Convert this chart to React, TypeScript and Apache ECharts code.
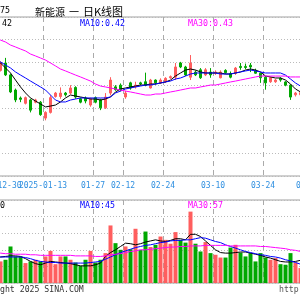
import React, { useEffect, useRef } from "react";
import * as echarts from "echarts";

const dates = ["2024-12-27","2024-12-30","2024-12-31","2025-01-02","2025-01-03","2025-01-06","2025-01-07","2025-01-08","2025-01-09","2025-01-10","2025-01-13","2025-01-14","2025-01-15","2025-01-16","2025-01-17","2025-01-20","2025-01-21","2025-01-22","2025-01-23","2025-01-24","2025-01-27","2025-02-05","2025-02-06","2025-02-07","2025-02-10","2025-02-11","2025-02-12","2025-02-13","2025-02-14","2025-02-17","2025-02-18","2025-02-19","2025-02-20","2025-02-21","2025-02-24","2025-02-25","2025-02-26","2025-02-27","2025-02-28","2025-03-03","2025-03-04","2025-03-05","2025-03-06","2025-03-07","2025-03-10","2025-03-11","2025-03-12","2025-03-13","2025-03-14","2025-03-17","2025-03-18","2025-03-19","2025-03-20","2025-03-21","2025-03-24","2025-03-25","2025-03-26","2025-03-27","2025-03-28","2025-03-31","2025-04-01","2025-04-02","2025-04-03","2025-04-07"];

const tickDates = ["2024-12-30","2025-01-13","2025-01-27","2025-02-12","2025-02-24","2025-03-10","2025-03-24","2025-04-07"];
const tickLabels = ["12-30","2025-01-13","01-27","02-12","02-24","03-10","03-24","04-07"];

const openP = [null,0.433,0.4395,0.429,0.4157,0.4087,0.404,0.407,0.405,0.405,0.391,0.396,0.410,0.410,0.413,0.413,0.418,0.408,0.4085,0.4025,0.409,0.407,0.400,0.413,0.4185,0.420,0.4096,0.422,0.4185,0.422,0.423,0.4175,0.4245,0.422,0.423,0.4265,0.427,0.4395,0.436,0.427,0.4315,0.4335,0.429,0.4315,0.4305,0.4265,0.433,0.430,0.4305,0.4365,0.4365,0.4375,0.433,0.4305,0.427,0.423,0.423,0.426,0.4228,0.420,0.4115,0.4115,null,null];
const closeP = [null,0.4395,0.429,0.414,0.407,0.4075,0.409,0.398,0.407,0.394,0.396,0.409,0.413,0.413,0.4115,0.4175,0.4095,0.405,0.406,0.408,0.405,0.400,0.4095,0.4245,0.416,0.416,0.413,0.4175,0.420,0.421,0.420,0.4245,0.422,0.4245,0.426,0.4275,0.436,0.436,0.429,0.4395,0.429,0.4265,0.4335,0.429,0.4315,0.4315,0.431,0.427,0.435,0.4355,0.4355,0.436,0.4305,0.4265,0.422,0.4265,0.4245,0.4245,0.420,0.4095,0.413,0.4135,null,null];
const lowP = [null,0.432,0.428,0.413,0.405,0.405,0.403,0.396,0.404,0.393,0.389,0.395,0.409,0.408,0.410,0.412,0.408,0.404,0.404,0.401,0.404,0.398,0.399,0.411,0.415,0.4145,0.408,0.416,0.417,0.420,0.419,0.417,0.4205,0.421,0.422,0.4255,0.4245,0.435,0.428,0.4245,0.428,0.4255,0.428,0.4265,0.429,0.426,0.430,0.426,0.429,0.4335,0.434,0.4315,0.430,0.422,0.416,0.422,0.422,0.423,0.419,0.407,0.410,0.410,null,null];
const highP = [null,0.441,0.444,0.430,0.417,0.410,0.410,0.408,0.408,0.406,0.397,0.411,0.414,0.418,0.414,0.420,0.419,0.409,0.410,0.409,0.410,0.408,0.413,0.427,0.420,0.4215,0.415,0.423,0.423,0.423,0.431,0.4255,0.425,0.426,0.427,0.4285,0.4395,0.4405,0.437,0.4465,0.433,0.435,0.435,0.435,0.433,0.433,0.434,0.432,0.436,0.4395,0.439,0.4395,0.4345,0.431,0.428,0.4275,0.4255,0.427,0.4235,0.4205,0.414,0.415,null,null];

const ma5 = [0.4421,0.4395,0.4351,0.4307,0.4245,0.4184,0.4131,0.4087,0.4060,0.4034,0.4008,0.4016,0.4025,0.4052,0.4087,0.4113,0.4104,0.4096,0.4087,0.4078,0.4078,0.4069,0.4078,0.4096,0.4140,0.4166,0.4175,0.4184,0.4192,0.4201,0.4201,0.4210,0.4210,0.4219,0.4228,0.4245,0.4280,0.4307,0.4333,0.4342,0.4333,0.4316,0.4307,0.4307,0.4307,0.4307,0.4298,0.4298,0.4307,0.4316,0.4333,0.4342,0.4333,0.4316,0.4280,0.4272,0.4263,0.4263,0.4245,0.4210,0.4166,0.4140,null,null];
const ma10 = [0.4421,0.4404,0.4377,0.4351,0.4316,0.4289,0.4263,0.4236,0.4210,0.4184,0.4157,0.4113,0.4069,0.4052,0.4052,0.4069,0.4078,0.4087,0.4087,0.4087,0.4087,0.4087,0.4087,0.4096,0.4131,0.4148,0.4166,0.4175,0.4184,0.4192,0.4201,0.4201,0.4210,0.4219,0.4228,0.4236,0.4254,0.4263,0.4280,0.4298,0.4307,0.4307,0.4307,0.4307,0.4307,0.4298,0.4298,0.4298,0.4307,0.4316,0.4325,0.4333,0.4325,0.4316,0.4307,0.4307,0.4307,0.4307,0.4289,0.4254,0.4219,0.4192,null,null];
const ma30 = [0.4624,0.4597,0.4580,0.4553,0.4536,0.4518,0.4501,0.4474,0.4457,0.4439,0.4421,0.4395,0.4369,0.4342,0.4325,0.4307,0.4289,0.4272,0.4254,0.4236,0.4210,0.4192,0.4184,0.4175,0.4166,0.4157,0.4148,0.4140,0.4131,0.4122,0.4113,0.4113,0.4122,0.4122,0.4131,0.4140,0.4148,0.4157,0.4166,0.4175,0.4175,0.4184,0.4192,0.4201,0.4201,0.4210,0.4219,0.4228,0.4236,0.4245,0.4254,0.4263,0.4272,0.4280,0.4280,0.4280,0.4280,0.4280,0.4280,0.4272,0.4272,0.4272,null,null];

const volume = [null,39,42,66,48,48,36,39,42,39,48,58,34,48,48,42,37,31,42,58,37,42,54,104,72,60,66,61,98,60,93,65,69,84,78,71,92,78,73,129,71,57,74,54,51,46,46,64,69,55,48,54,39,54,46,42,45,34,33,54,37,27,null,null];
const volMa5 = [47,47,48,49,49,48,44,39,35,33,36,39,38,37,36,35,33,31,31,31,33,36,48,55,60,66,72,71,69,71,74,76,78,76,75,77,80,80,78,88,88,84,76,68,60,55,54,54,55,56,56,54,52,50,47,45,42,39,38,38,39,41,null,null];
const volMa10 = [47,47,47,47,47,47,46,44,41,39,38,37,37,36,36,36,36,36,36,37,38,39,43,47,51,55,58,61,64,66,68,69,71,73,74,76,77,77,78,78,80,82,81,78,75,73,69,66,63,60,57,55,53,51,50,48,47,45,42,40,37,34,null,null];
const volMa30 = [54,54,53,53,52,52,52,51,51,50,50,50,50,50,50,50,49,49,49,49,48,48,49,51,52,53,55,57,58,60,60,61,62,63,64,65,65,66,66,67,67,67,68,68,68,68,68,67,67,67,67,67,67,66,66,65,64,63,62,60,59,57,null,null];

const UP = "#ff5e5e";
const DOWN = "#00a800";
const LABEL = "#2f8fe0";
const MONO = '"DejaVu Sans Mono", monospace';
const CJK = '"Noto Sans CJK SC", sans-serif';
const OX = 7; // page x -> chart x offset
const CW = 320; // chart width (64 trading days x 5px)

export default function App() {
  const ref = useRef<HTMLDivElement>(null);
  useEffect(() => {
    const chart = echarts.init(ref.current!, null, { renderer: "svg" });
    const tickSet = new Set(tickDates);
    const showTick = (_i: number, v: string) => tickSet.has(v);
    const showMain = (_i: number, v: string) => tickSet.has(v) && v !== tickDates[0];
    const showFirst = (_i: number, v: string) => v === tickDates[0];
    const labelOf = (v: string) => {
      const idx = tickDates.indexOf(v);
      return idx >= 0 ? tickLabels[idx] : "";
    };
    const candleData = dates.map((_, i) =>
      openP[i] == null ? "-" : [openP[i], closeP[i], lowP[i], highP[i]]
    );
    const volData = dates.map((_, i) =>
      volume[i] == null
        ? "-"
        : {
            value: volume[i],
            itemStyle: { color: (closeP[i] as number) >= (openP[i] as number) ? UP : DOWN },
          }
    );
    const splitV = {
      show: true,
      interval: showTick,
      lineStyle: { color: "#aaaaaa", type: [5, 4], width: 1 },
    };
    const splitH = {
      show: true,
      lineStyle: { color: "#bbbbbb", type: [1, 2], width: 1 },
    };
    const lineS = (name: string, data: any[], color: string, xi: number) => ({
      name,
      type: "line",
      xAxisIndex: xi,
      yAxisIndex: xi,
      data,
      showSymbol: false,
      symbol: "none",
      lineStyle: { color, width: 1 },
      z: 5,
    });
    const txt = (text: string, x: number, y: number, fill: string, font: string, align = "left") => ({
      type: "text",
      x: x + OX,
      y,
      z: 100,
      style: { text, fill, font, align, textAlign: align, verticalAlign: "middle", textVerticalAlign: "middle" },
    });
    const gridBase = { left: 0, right: 0, show: true, borderColor: "#a0a0a0", borderWidth: 1, outerBoundsMode: "none", containLabel: false };
    chart.setOption({
      animation: false,
      grid: [
        { ...gridBase, top: 17, height: 159 },
        { ...gridBase, top: 200, height: 83 },
      ],
      xAxis: [
        {
          type: "category",
          gridIndex: 0,
          data: dates,
          boundaryGap: true,
          axisLine: { show: false },
          axisTick: { show: false, interval: showTick },
          axisLabel: {
            interval: showMain,
            hideOverlap: false,
            color: LABEL,
            fontSize: 8,
            fontFamily: MONO,
            margin: 5,
            padding: [0, 5, 0, 0],
            formatter: labelOf,
          },
          splitLine: splitV,
        },
        {
          type: "category",
          gridIndex: 1,
          data: dates,
          boundaryGap: true,
          axisLine: { show: false },
          axisTick: { show: false, interval: showTick },
          axisLabel: { show: false, interval: showTick },
          splitLine: splitV,
        },
        {
          type: "category",
          gridIndex: 0,
          position: "bottom",
          data: dates,
          boundaryGap: true,
          axisLine: { show: false },
          axisTick: { show: false },
          splitLine: { show: false },
          axisLabel: {
            interval: showFirst,
            color: LABEL,
            fontSize: 8,
            fontFamily: MONO,
            margin: 5,
            formatter: (v: string) => "{f|" + labelOf(v) + "}",
            rich: { f: { color: LABEL, fontSize: 8, fontFamily: MONO, padding: [0, 0, 0, 18] } },
          },
        },
      ],
      yAxis: [
        {
          type: "value",
          gridIndex: 0,
          min: 0.34,
          max: 0.48,
          interval: 0.02,
          axisLine: { show: false },
          axisTick: { show: false },
          axisLabel: { show: false },
          splitLine: splitH,
        },
        {
          type: "value",
          gridIndex: 1,
          min: 0,
          max: 150,
          interval: 30,
          axisLine: { show: false },
          axisTick: { show: false },
          axisLabel: { show: false },
          splitLine: splitH,
        },
      ],
      series: [
        {
          name: "K",
          type: "candlestick",
          xAxisIndex: 0,
          yAxisIndex: 0,
          data: candleData,
          barWidth: 3,
          itemStyle: { color: UP, color0: DOWN, borderColor: UP, borderColor0: DOWN, borderWidth: 1 },
          z: 3,
        },
        lineS("MA5", ma5, "#000000", 0),
        lineS("MA10", ma10, "#0000ff", 0),
        lineS("MA30", ma30, "#ff00ff", 0),
        {
          name: "VOL",
          type: "bar",
          xAxisIndex: 1,
          yAxisIndex: 1,
          data: volData,
          barWidth: 4,
          z: 3,
        },
        lineS("VMA5", volMa5, "#000000", 1),
        lineS("VMA10", volMa10, "#0000ff", 1),
        lineS("VMA30", volMa30, "#ff00ff", 1),
      ],
      graphic: [
        txt("75", 0, 10, "#000000", "8.3px " + MONO),
        txt("新能源", 35, 11, "#000000", "10px " + CJK),
        txt("一", 69, 11, "#000000", "10px " + CJK),
        txt("日K线图", 83, 11, "#000000", "11px " + CJK),
        txt("42", 2, 23, "#000000", "8.3px " + MONO),
        txt("MA10:0.42", 80, 23, "#0000ff", "8.3px " + MONO),
        txt("MA30:0.43", 188, 23, "#ff00ff", "8.3px " + MONO),
        txt("0", 0, 205, "#000000", "8.3px " + MONO),
        txt("MA10:45", 80, 205, "#0000ff", "8.3px " + MONO),
        txt("MA30:57", 188, 205, "#ff00ff", "8.3px " + MONO),
        txt("ght 2025 SINA.COM", 0, 289, "#333333", "8.2px " + MONO),
        txt("http", 279, 289, "#555555", "8.2px " + MONO),
      ],
    });
    return () => chart.dispose();
  }, []);
  return (
    <div
      ref={ref}
      style={{ position: "fixed", left: -OX, top: 0, width: CW, height: 300 }}
    />
  );
}
